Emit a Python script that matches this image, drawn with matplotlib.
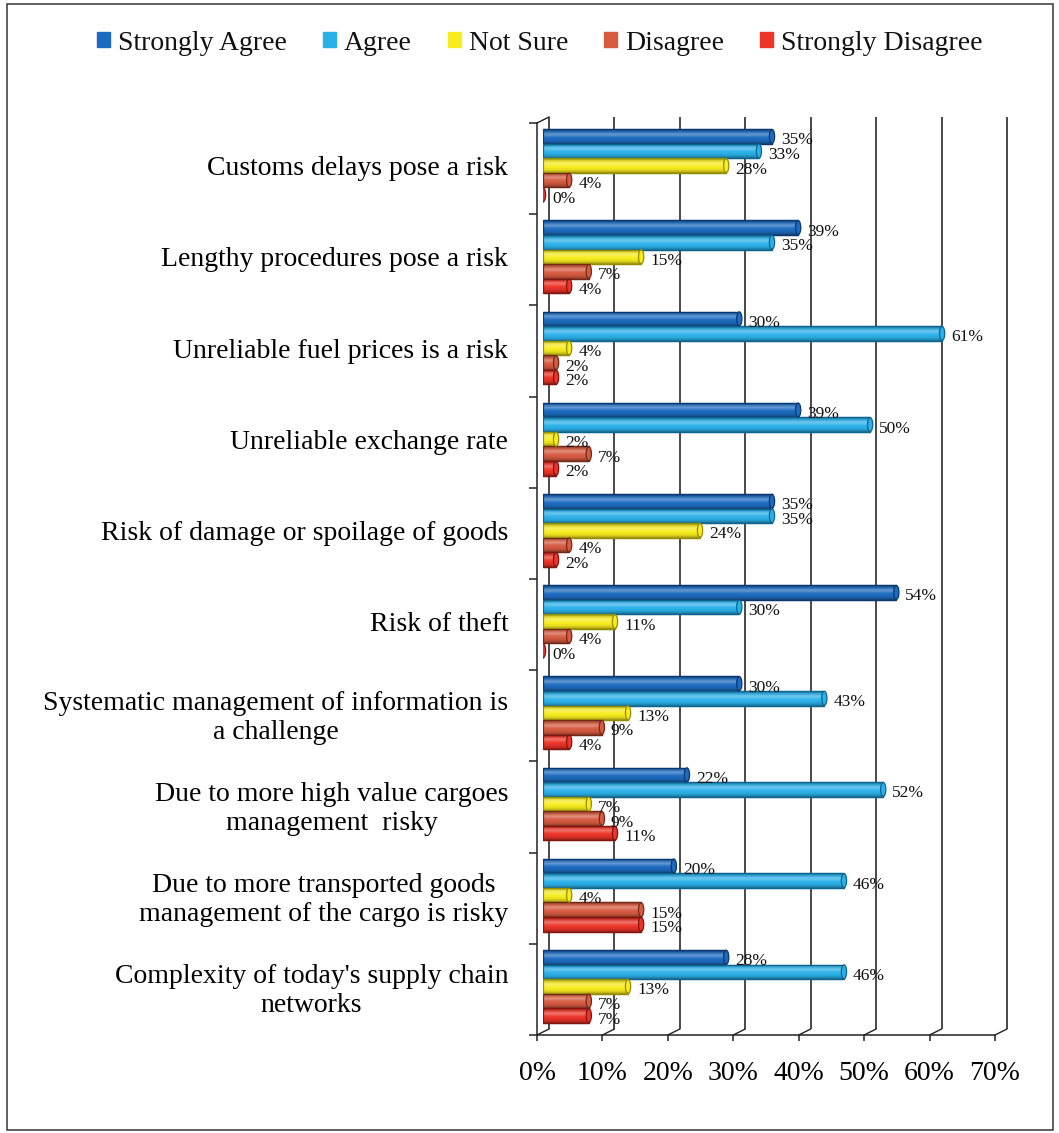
import matplotlib

matplotlib.use("Agg")
import matplotlib.pyplot as plt
import numpy as np
from matplotlib.lines import TICKDOWN, TICKLEFT
from matplotlib.patches import ConnectionPatch, Ellipse, Patch, Rectangle
from matplotlib.transforms import ScaledTranslation

plt.rcParams["font.family"] = ["Liberation Serif", "DejaVu Serif"]
plt.rcParams["text.color"] = "#111111"

# survey responses, % of respondents, listed top to bottom
categories = [
    "Customs delays pose a risk",
    "Lengthy procedures pose a risk",
    "Unreliable fuel prices is a risk",
    "Unreliable exchange rate",
    "Risk of damage or spoilage of goods",
    "Risk of theft",
    "Systematic management of information is\na challenge",
    "Due to more high value cargoes\nmanagement  risky",
    "Due to more transported goods\nmanagement of the cargo is risky",
    "Complexity of today's supply chain\nnetworks",
]
strongly_agree = [35, 39, 30, 39, 35, 54, 30, 22, 20, 28]
agree = [33, 35, 61, 50, 35, 30, 43, 52, 46, 46]
not_sure = [28, 15, 4, 2, 24, 11, 13, 7, 4, 13]
disagree = [4, 7, 2, 7, 4, 4, 9, 9, 15, 7]
strongly_disagree = [0, 4, 2, 2, 2, 0, 4, 11, 15, 7]

series_names = ["Strongly Agree", "Agree", "Not Sure", "Disagree", "Strongly Disagree"]
series_values = [strongly_agree, agree, not_sure, disagree, strongly_disagree]
x_ticks = [0, 10, 20, 30, 40, 50, 60, 70]

# (face, edge) colours for each response
COLORS = [
    ("#1d6bc0", "#0a3770"),
    ("#2bb1ea", "#0c6590"),
    ("#f7ec1e", "#978c00"),
    ("#d65b40", "#742817"),
    ("#ec3429", "#85130e"),
]

DPI = 100
fig = plt.figure(figsize=(10.59, 11.33), dpi=DPI, facecolor="white")
ax = fig.add_axes([543 / 1059, 101 / 1133, 458 / 1059, 912 / 1133])
ax.set_facecolor("none")
for s in ax.spines.values():
    s.set_visible(False)

# pseudo-3D: front axis sits down-left of the bars, back wall up-right
front = ax.transData + ScaledTranslation(-6 / DPI, -3 / DPI, fig.dpi_scale_trans)
back = ax.transData + ScaledTranslation(6 / DPI, 3 / DPI, fig.dpi_scale_trans)


def cylinder_shade(face, n=48):
    """Vertical colour ramp that makes a flat bar look like a cylinder."""
    rgb = np.array(matplotlib.colors.to_rgb(face))
    t = np.linspace(1, -1, n)
    light = 0.3 * np.exp(-((t - 0.3) / 0.3) ** 2)
    dark = 0.4 * np.abs(t) ** 3
    col = rgb * (1 - light[:, None]) + light[:, None]
    col = col * (1 - dark[:, None])
    return np.clip(col, 0, 1)[:, None, :]


n_groups = len(categories)
bar_h = 0.16
start = 0.1

for k, (vals, (face, edge)) in enumerate(zip(series_values, COLORS)):
    shade = cylinder_shade(face)
    for i, v in enumerate(vals):
        y0 = i + start + k * bar_h
        yc = y0 + bar_h / 2
        bar = ax.barh(y0, v, height=bar_h, align="edge", color=face,
                      edgecolor=edge, linewidth=0.9, zorder=3)[0]
        if v > 0:
            img = ax.imshow(shade, extent=(0, v, y0 + bar_h, y0), aspect="auto",
                            origin="upper", zorder=3.5, interpolation="bilinear")
            img.set_clip_path(bar)
            ax.barh(y0, v, height=bar_h, align="edge", color="none",
                    edgecolor=edge, linewidth=0.9, zorder=4)
        cap = Ellipse((v, yc), width=0.8, height=bar_h * 0.95, facecolor=face,
                      edgecolor=edge, linewidth=0.9, zorder=4.5)
        ax.add_patch(cap)
        ax.annotate(f"{v}%", (v, yc), xytext=(9, -4), textcoords="offset pixels",
                    ha="left", va="center", fontsize=12.5, zorder=6)

# back wall gridlines
ax.vlines(x_ticks, 0, n_groups, colors="#2a2a2a", linewidth=1.2,
          transform=back, zorder=0.5, clip_on=False)

# front axes with their ticks
ax.plot([0, 0], [0, n_groups], color="#222222", lw=1.1, transform=front, clip_on=False)
ax.plot([0, x_ticks[-1]], [n_groups, n_groups], color="#222222", lw=1.1,
        transform=front, clip_on=False)
ax.plot(np.zeros(n_groups + 1), np.arange(n_groups + 1), ls="none", marker=TICKLEFT,
        ms=5.5, mew=1.1, color="#222222", transform=front, clip_on=False)
ax.plot(x_ticks, [n_groups] * len(x_ticks), ls="none", marker=TICKDOWN,
        ms=4.5, mew=1.1, color="#222222", transform=front, clip_on=False)

# floor/wall corner connectors
corners = [(x, n_groups) for x in x_ticks] + [(0, 0)]
for xy in corners:
    con = ConnectionPatch(xyA=xy, coordsA=front, xyB=xy, coordsB=back,
                          axesA=ax, axesB=ax, color="#222222", lw=1.0)
    con.set_clip_on(False)
    ax.add_artist(con)

ax.set_xlim(0, 70)
ax.set_ylim(n_groups, 0)

ax.set_yticks(np.arange(n_groups) + 0.5, categories)
ax.tick_params(axis="y", length=0, pad=25, labelsize=20)
for lbl in ax.get_yticklabels():
    lbl.set_multialignment("center")

ax.set_xticks(x_ticks, [f"{x}%" for x in x_ticks])
ax.tick_params(axis="x", length=0, pad=21, labelsize=20)
shift = ScaledTranslation(-6 / DPI, 0, fig.dpi_scale_trans)
for lbl in ax.get_xticklabels():
    lbl.set_transform(lbl.get_transform() + shift)

handles = [Patch(facecolor=f, edgecolor=f) for f, _ in COLORS]
fig.legend(handles, series_names, loc="center", ncol=5,
           bbox_to_anchor=(540 / 1059, 1 - 43 / 1133), frameon=False, fontsize=20,
           handlelength=0.45, handleheight=0.45, handletextpad=0.3,
           columnspacing=1.3)

# outer frame
fig.patches.append(Rectangle((7 / 1059, 3 / 1133), 1046 / 1059, 1126 / 1133,
                             transform=fig.transFigure, fill=False,
                             edgecolor="#444444", linewidth=1.2))

fig.savefig("out.png", dpi=DPI)
